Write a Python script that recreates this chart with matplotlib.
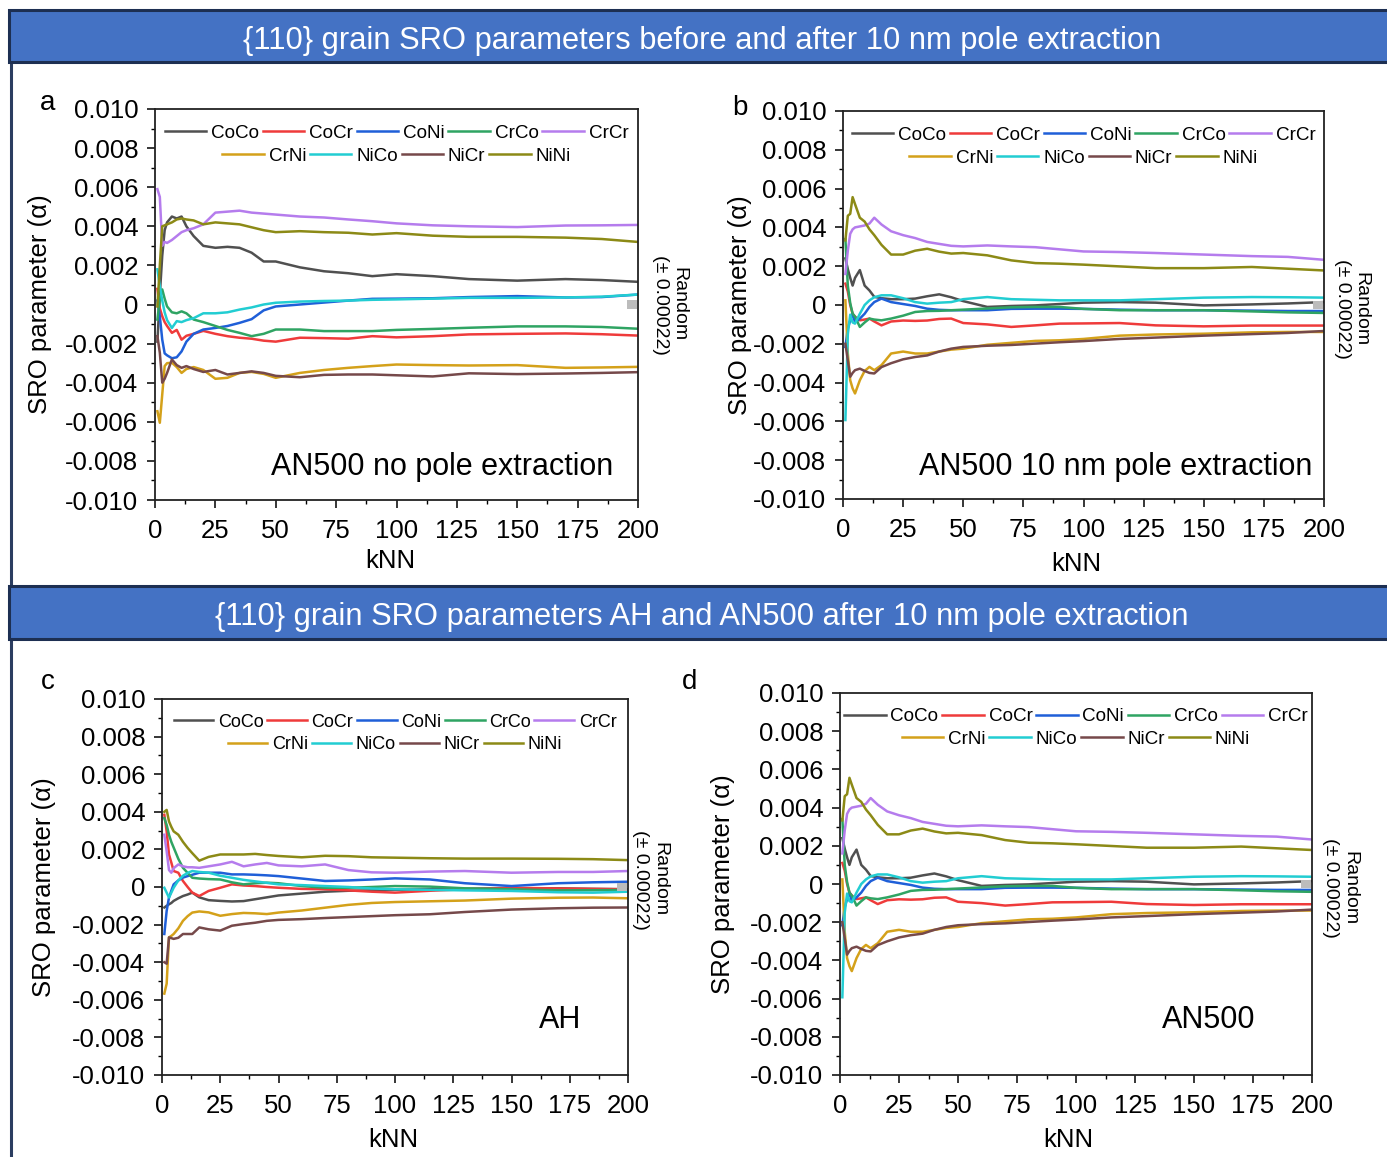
import numpy as np
import matplotlib
matplotlib.use("Agg")
import matplotlib.pyplot as plt
from matplotlib.patches import Rectangle
from matplotlib.lines import Line2D
from matplotlib.ticker import MultipleLocator, FuncFormatter

plt.rcParams['font.family'] = 'Liberation Sans'
plt.rcParams['axes.unicode_minus'] = False

# kNN positions where the running SRO values were sampled
knn = [1, 2, 3, 4, 5, 7, 9, 11, 13, 16, 20, 25, 30, 35, 40, 45, 50,
       60, 70, 80, 90, 100, 115, 130, 150, 170, 185, 200]

pairs = ["CoCo", "CoCr", "CoNi", "CrCo", "CrCr", "CrNi", "NiCo", "NiCr", "NiNi"]
colors = ["#505050", "#ef3b3b", "#1f5fd8", "#2fa463", "#b57ced",
          "#d4a11a", "#22cdd2", "#76494a", "#8c8a16"]

# AN500, no pole extraction (values x 1e-3)
a_coco = [-1.9, 0.5, 2.5, 3.8, 4.2, 4.5, 4.4, 4.5, 4.0, 3.5, 3.0, 2.9, 2.95, 2.9, 2.65, 2.2, 2.2,
          1.9, 1.7, 1.6, 1.45, 1.55, 1.45, 1.3, 1.22, 1.3, 1.25, 1.16]
a_cocr = [0.8, -0.2, -0.6, -0.9, -1.1, -1.45, -1.3, -1.8, -1.6, -1.5, -1.35, -1.5, -1.62, -1.7, -1.75, -1.85, -1.9,
          -1.7, -1.72, -1.75, -1.62, -1.68, -1.62, -1.53, -1.5, -1.48, -1.52, -1.59]
a_coni = [0.2, -0.6, -1.8, -2.5, -2.6, -2.75, -2.7, -2.4, -1.9, -1.5, -1.28, -1.2, -1.1, -0.94, -0.75, -0.3, -0.1,
          0.0, 0.1, 0.2, 0.29, 0.3, 0.32, 0.38, 0.43, 0.36, 0.38, 0.51]
a_crco = [-0.77, 0.3, 0.77, 0.3, -0.1, -0.4, -0.45, -0.35, -0.45, -0.77, -0.9, -1.1, -1.3, -1.45, -1.62, -1.5, -1.28,
          -1.28, -1.36, -1.36, -1.36, -1.3, -1.25, -1.19, -1.12, -1.12, -1.15, -1.24]
a_crcr = [5.9, 5.5, 3.0, 3.2, 3.15, 3.3, 3.5, 3.7, 3.8, 3.9, 4.1, 4.7, 4.75, 4.8, 4.7, 4.65, 4.6,
          4.5, 4.45, 4.35, 4.26, 4.15, 4.05, 4.0, 3.96, 4.04, 4.05, 4.07]
a_crni = [-5.46, -6.05, -4.6, -3.15, -3.0, -2.98, -3.2, -3.5, -3.3, -3.2, -3.35, -3.8, -3.75, -3.5, -3.45, -3.55, -3.75,
          -3.5, -3.35, -3.24, -3.15, -3.07, -3.1, -3.12, -3.1, -3.24, -3.22, -3.19]
a_nico = [1.8, 0.94, 0.2, -0.4, -0.8, -1.2, -0.85, -0.9, -0.8, -0.7, -0.45, -0.45, -0.4, -0.26, -0.15, 0.0, 0.09,
          0.15, 0.18, 0.2, 0.24, 0.26, 0.3, 0.34, 0.34, 0.36, 0.4, 0.51]
a_nicr = [-1.62, -2.47, -4.0, -3.8, -3.5, -2.81, -3.1, -3.24, -3.15, -3.3, -3.45, -3.35, -3.58, -3.5, -3.42, -3.5, -3.65,
          -3.72, -3.6, -3.58, -3.58, -3.62, -3.68, -3.52, -3.56, -3.53, -3.5, -3.46]
a_nini = [-0.1, 2.0, 4.0, 4.05, 4.1, 4.2, 4.35, 4.4, 4.35, 4.3, 4.1, 4.2, 4.15, 4.1, 3.95, 3.8, 3.7,
          3.75, 3.7, 3.67, 3.58, 3.65, 3.52, 3.46, 3.46, 3.42, 3.35, 3.2]

# AN500, 10 nm pole extraction (values x 1e-3)
b_coco = [2.4, 1.85, 1.4, 1.0, 1.4, 1.8, 1.0, 0.75, 0.42, 0.35, 0.3, 0.3, 0.33, 0.45, 0.55, 0.4, 0.2,
          -0.1, -0.05, -0.02, 0.05, 0.12, 0.15, 0.12, -0.02, 0.03, 0.08, 0.15]
b_cocr = [1.1, 0.7, 0.0, -0.45, -0.6, -0.79, -0.75, -0.7, -0.85, -1.05, -0.85, -0.8, -0.82, -0.8, -0.72, -0.7, -0.93,
          -1.0, -1.13, -1.05, -0.96, -0.95, -0.93, -1.05, -1.1, -1.06, -1.06, -1.06]
b_coni = [-2.16, -1.2, -0.8, -0.45, -0.9, -0.7, -0.45, -0.1, 0.15, 0.33, 0.15, 0.05, -0.05, -0.19, -0.25, -0.27, -0.27,
          -0.27, -0.2, -0.19, -0.19, -0.2, -0.24, -0.27, -0.27, -0.29, -0.31, -0.31]
b_crco = [3.4, 1.0, 0.1, -0.45, -0.6, -1.13, -0.9, -0.7, -0.75, -0.79, -0.7, -0.55, -0.36, -0.31, -0.3, -0.27, -0.24,
          -0.18, -0.12, -0.1, -0.1, -0.2, -0.27, -0.27, -0.27, -0.33, -0.38, -0.41]
b_crcr = [1.6, 2.8, 3.67, 3.9, 4.0, 4.05, 4.1, 4.2, 4.5, 4.15, 3.8, 3.6, 3.45, 3.25, 3.15, 3.05, 3.02,
          3.07, 3.02, 2.98, 2.87, 2.76, 2.73, 2.68, 2.6, 2.52, 2.48, 2.33]
b_crni = [0.24, -2.5, -3.88, -4.3, -4.56, -3.88, -3.4, -3.19, -3.36, -3.1, -2.5, -2.4, -2.5, -2.5, -2.4, -2.3, -2.25,
          -2.05, -1.95, -1.85, -1.82, -1.75, -1.58, -1.52, -1.48, -1.41, -1.39, -1.39]
b_nico = [-5.93, -1.5, -0.5, -0.9, -0.96, -0.45, 0.0, 0.24, 0.4, 0.5, 0.5, 0.35, 0.15, 0.07, 0.12, 0.15, 0.3,
          0.41, 0.3, 0.27, 0.24, 0.24, 0.24, 0.3, 0.38, 0.41, 0.4, 0.38]
b_nicr = [-2.0, -2.85, -3.7, -3.5, -3.36, -3.28, -3.4, -3.5, -3.53, -3.2, -3.0, -2.8, -2.68, -2.6, -2.4, -2.25, -2.16,
          -2.1, -2.06, -1.99, -1.92, -1.86, -1.75, -1.68, -1.58, -1.5, -1.44, -1.34]
b_nini = [3.33, 4.6, 4.7, 5.56, 5.2, 4.5, 4.3, 3.9, 3.6, 3.1, 2.6, 2.6, 2.8, 2.9, 2.75, 2.65, 2.68,
          2.56, 2.3, 2.16, 2.13, 2.08, 1.99, 1.9, 1.9, 1.96, 1.87, 1.78]

# AH, 10 nm pole extraction (values x 1e-3)
c_coco = [-1.09, -1.0, -0.92, -0.85, -0.74, -0.6, -0.48, -0.4, -0.3, -0.55, -0.7, -0.74, -0.77, -0.75, -0.65, -0.55, -0.45,
          -0.35, -0.25, -0.2, -0.18, -0.15, -0.12, -0.1, -0.07, -0.07, -0.1, -0.12]
c_cocr = [3.84, 2.96, 1.73, 1.3, 0.85, 0.76, 0.32, 0.0, -0.3, -0.48, -0.21, -0.04, 0.14, 0.08, 0.05, 0.0, -0.04,
          -0.1, -0.12, -0.18, -0.25, -0.3, -0.2, -0.12, -0.04, -0.08, -0.1, -0.12]
c_coni = [-2.5, -1.27, -0.56, -0.2, 0.14, 0.35, 0.5, 0.58, 0.65, 0.76, 0.76, 0.76, 0.67, 0.67, 0.65, 0.62, 0.58,
          0.45, 0.32, 0.35, 0.4, 0.46, 0.4, 0.2, 0.05, 0.2, 0.25, 0.28]
c_crco = [3.66, 3.3, 2.78, 2.4, 2.1, 1.5, 1.02, 0.75, 0.49, 0.45, 0.42, 0.4, 0.25, 0.14, 0.2, 0.23, 0.2,
          0.05, -0.04, -0.04, 0.0, 0.05, 0.02, -0.07, -0.12, -0.18, -0.17, -0.16]
c_crcr = [2.78, 1.9, 0.9, 0.76, 1.0, 1.2, 1.1, 1.05, 1.05, 1.02, 1.1, 1.2, 1.34, 1.1, 1.2, 1.28, 1.15,
          1.1, 1.2, 0.9, 0.78, 0.76, 0.82, 0.85, 0.76, 0.8, 0.8, 0.85]
c_crni = [-5.67, -5.14, -2.68, -2.6, -2.5, -2.2, -1.8, -1.55, -1.36, -1.3, -1.35, -1.53, -1.44, -1.38, -1.4, -1.44, -1.36,
          -1.25, -1.1, -0.95, -0.85, -0.8, -0.76, -0.72, -0.62, -0.57, -0.56, -0.6]
c_nico = [-0.04, -0.3, -0.56, -0.3, -0.04, 0.35, 0.6, 0.75, 0.85, 0.8, 0.76, 0.6, 0.49, 0.38, 0.3, 0.22, 0.14,
          0.1, 0.05, 0.0, -0.08, -0.12, -0.15, -0.18, -0.21, -0.28, -0.3, -0.25]
c_nicr = [-4.0, -4.08, -2.68, -2.72, -2.76, -2.7, -2.5, -2.5, -2.5, -2.15, -2.25, -2.32, -2.06, -1.97, -1.9, -1.8, -1.75,
          -1.71, -1.65, -1.6, -1.55, -1.5, -1.45, -1.33, -1.2, -1.13, -1.1, -1.09]
c_nini = [4.0, 4.1, 3.49, 3.2, 2.96, 2.78, 2.4, 2.08, 1.8, 1.4, 1.6, 1.73, 1.73, 1.73, 1.76, 1.7, 1.65,
          1.58, 1.66, 1.64, 1.58, 1.56, 1.53, 1.51, 1.51, 1.5, 1.48, 1.43]

series_a = [a_coco, a_cocr, a_coni, a_crco, a_crcr, a_crni, a_nico, a_nicr, a_nini]
series_b = [b_coco, b_cocr, b_coni, b_crco, b_crcr, b_crni, b_nico, b_nicr, b_nini]
series_c = [c_coco, c_cocr, c_coni, c_crco, c_crcr, c_crni, c_nico, c_nicr, c_nini]

random_level = 0.0
random_band = 0.00022
random_k = 197.5

W, H = 1387, 1157
fig = plt.figure(figsize=(W / 100, H / 100), dpi=100)


def px_axes(x0, y0, x1, y1):
    return fig.add_axes([x0 / W, 1 - y1 / H, (x1 - x0) / W, (y1 - y0) / H])


def ylab_fmt(v, pos):
    if abs(v) < 1e-12:
        return "0"
    return f"{v:.3f}"


def draw_panel(ax, series, note, note_xy, ylab_x, xlab_xy, rand_xy, leg_size=13.6):
    for name, vals, c in zip(pairs, series, colors):
        ax.plot(knn, np.array(vals) * 1e-3, color=c, lw=1.8, label=name)
    ax.bar(random_k, 2 * random_band, bottom=random_level - random_band,
           width=4.5, color="#bcbcbc", zorder=5)
    ax.set_xlim(0, 200)
    ax.set_ylim(-0.010, 0.010)
    ax.xaxis.set_major_locator(MultipleLocator(25))
    ax.xaxis.set_minor_locator(MultipleLocator(12.5))
    ax.yaxis.set_major_locator(MultipleLocator(0.002))
    ax.yaxis.set_minor_locator(MultipleLocator(0.001))
    ax.yaxis.set_major_formatter(FuncFormatter(ylab_fmt))
    ax.tick_params(which="major", direction="out", length=6, width=1.1,
                   labelsize=18.5)
    ax.tick_params(axis="x", which="major", pad=8)
    ax.tick_params(axis="y", which="major", pad=6)
    ax.tick_params(which="minor", direction="out", length=3, width=1.0)
    for s in ax.spines.values():
        s.set_linewidth(1.3)
        s.set_color("#222222")
    ax.set_ylabel("SRO parameter (α)", fontsize=18.5)
    ax.yaxis.set_label_coords(ylab_x, 0.5)
    ax.set_xlabel("kNN", fontsize=18.5)
    ax.xaxis.set_label_coords(*xlab_xy)

    handles = ax.get_lines()
    leg1 = ax.legend(handles[:5], pairs[:5], ncol=5, loc="center",
                     bbox_to_anchor=(0.5, 0.938), frameon=False, fontsize=leg_size,
                     handlelength=2.2, handletextpad=0.25, columnspacing=0.2,
                     borderpad=0)
    ax.add_artist(leg1)
    ax.legend(handles[5:], pairs[5:], ncol=4, loc="center",
              bbox_to_anchor=(0.5, 0.879), frameon=False, fontsize=leg_size,
              handlelength=2.2, handletextpad=0.25, columnspacing=0.2,
              borderpad=0)

    ax.text(note_xy[0], note_xy[1], note, transform=ax.transAxes,
            ha="right", va="center", fontsize=22)
    ax.text(rand_xy[0], rand_xy[1], "Random\n(± 0.00022)", transform=ax.transAxes,
            rotation=-90, ha="center", va="center", multialignment="center",
            fontsize=14, linespacing=1.15)


# header bars and the frame line on the left
for top, bot, title in [(10, 62, "{110} grain SRO parameters before and after 10 nm pole extraction"),
                        (586, 639, "{110} grain SRO parameters AH and AN500 after 10 nm pole extraction")]:
    fig.add_artist(Rectangle((9 / W, 1 - bot / H), 1.0, (bot - top) / H,
                             transform=fig.transFigure, facecolor="#4472c4",
                             edgecolor="#1d2f52", lw=2.2, zorder=3))
    fig.text(702 / W, 1 - ((top + bot) / 2 + 1) / H, title, color="white",
             fontsize=22.2, ha="center", va="center_baseline", zorder=4)

fig.add_artist(Line2D([11 / W, 11 / W], [0, 1 - 62 / H], transform=fig.transFigure,
                      color="#2b3d60", lw=2.2, zorder=2))

ax_a = px_axes(155, 109, 638, 500)
draw_panel(ax_a, series_a, "AN500 no pole extraction", (0.948, 0.084),
           -0.213, (0.487, -0.125), (1.066, 0.5))

ax_b = px_axes(843, 111, 1324, 499)
draw_panel(ax_b, series_b, "AN500 10 nm pole extraction", (0.975, 0.082),
           -0.189, (0.486, -0.136), (1.058, 0.49))

ax_c = px_axes(162, 699, 628, 1075)
draw_panel(ax_c, series_c, "AH", (0.9, 0.146),
           -0.227, (0.496, -0.14), (1.047, 0.52), leg_size=13.0)

# the AN500 curves after pole extraction are shown again next to AH
ax_d = px_axes(840, 693, 1312, 1075)
draw_panel(ax_d, series_b, "AN500", (0.88, 0.144),
           -0.222, (0.483, -0.138), (1.06, 0.49))

for lab, x, y in [("a", 48, 103), ("b", 740, 108), ("c", 48, 682), ("d", 690, 682)]:
    fig.text(x / W, 1 - y / H, lab, fontsize=20, ha="center", va="center")

fig.savefig("out.png", dpi=100, facecolor="white")
